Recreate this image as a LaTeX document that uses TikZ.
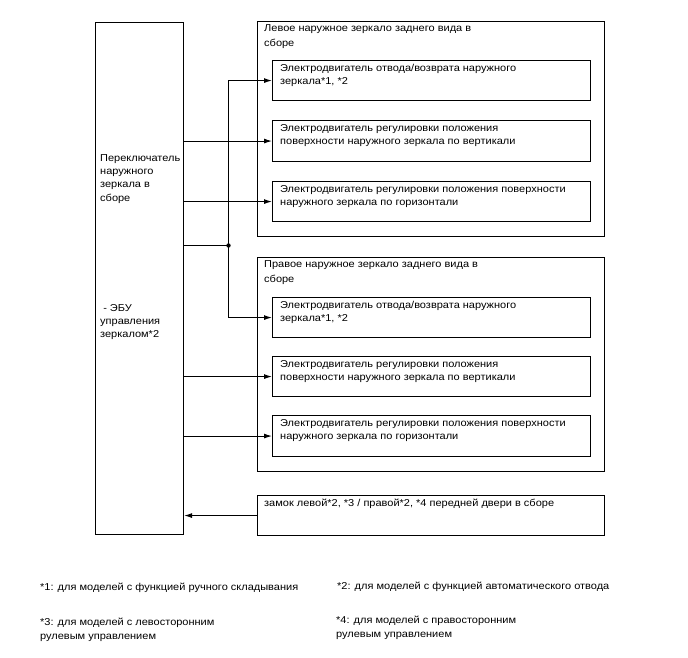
\documentclass[tikz,border=0pt]{standalone}
\usepackage{fontspec}
\setmainfont{Liberation Sans}[FakeStretch=1.1]
\usetikzlibrary{arrows.meta}
\begin{document}
\begin{tikzpicture}[x=1pt,y=-1pt,
  box/.style={draw,line width=1.1pt,rectangle,inner sep=0pt,anchor=north west},
  txt/.style={inner sep=0pt,anchor=north west,align=left,font=\fontsize{10}{13.2}\selectfont},
  ttl/.style={inner sep=0pt,anchor=north west,align=left,font=\fontsize{10}{14.5}\selectfont},
  side/.style={inner sep=0pt,anchor=north west,align=left,font=\fontsize{10}{13.3}\selectfont},
  note/.style={inner sep=0pt,anchor=north west,align=left,font=\fontsize{10}{14.3}\selectfont},
  wire/.style={line width=1pt},
  arr/.style={wire,-{Latex[length=8pt,width=5pt]}}]
\useasboundingbox (0,0) rectangle (688,658);
% left unit
\node[box,minimum width=88pt,minimum height=512pt] (lb) at (95,22) {};
\node[side] (lbt1) at (100,154.3) {Переключатель\\наружного\\зеркала в\\сборе};
\node[side] (lbt2) at (100,304) {\ - ЭБУ\\управления\\зеркалом*2};
% left mirror
\node[box,minimum width=347pt,minimum height=215pt] (lm) at (257,21) {};
\node[ttl] (lmt) at (264,24.5) {Левое наружное зеркало заднего вида в\\сборе};
\node[box,minimum width=318pt,minimum height=40pt] (lm1) at (272,60) {};
\node[txt] (lm1t) at (280,64) {Электродвигатель отвода/возврата наружного\\зеркала*1, *2};
\node[box,minimum width=318pt,minimum height=41pt] (lm2) at (272,120) {};
\node[txt] (lm2t) at (280,124) {Электродвигатель регулировки положения\\поверхности наружного зеркала по вертикали};
\node[box,minimum width=318pt,minimum height=40pt] (lm3) at (272,181) {};
\node[txt] (lm3t) at (280,185) {Электродвигатель регулировки положения поверхности\\наружного зеркала по горизонтали};
% right mirror
\node[box,minimum width=347pt,minimum height=214pt] (rm) at (257,257) {};
\node[ttl] (rmt) at (264,260.5) {Правое наружное зеркало заднего вида в\\сборе};
\node[box,minimum width=318pt,minimum height=40pt] (rm1) at (272,297) {};
\node[txt] (rm1t) at (280,301) {Электродвигатель отвода/возврата наружного\\зеркала*1, *2};
\node[box,minimum width=318pt,minimum height=40pt] (rm2) at (272,356) {};
\node[txt] (rm2t) at (280,360) {Электродвигатель регулировки положения\\поверхности наружного зеркала по вертикали};
\node[box,minimum width=318pt,minimum height=41pt] (rm3) at (272,415) {};
\node[txt] (rm3t) at (280,419) {Электродвигатель регулировки положения поверхности\\наружного зеркала по горизонтали};
% lock
\node[box,minimum width=347pt,minimum height=40pt] (lock) at (257,495) {};
\node[txt] (lockt) at (264,498.5) {замок левой*2, *3 / правой*2, *4 передней двери в сборе};
% connectors
\coordinate (dot) at (228.5,245.5);
\fill (dot) circle (2.2pt);
\draw[wire] (lb.east |- dot) -- (dot);
\draw[arr] (dot) |- (lm1.west);
\draw[arr] (dot) |- (rm1.west);
\draw[arr] (lb.east |- lm2.west) -- (lm2.west);
\draw[arr] (lb.east |- lm3.west) -- (lm3.west);
\draw[arr] (lb.east |- rm2.west) -- (rm2.west);
\draw[arr] (lb.east |- rm3.west) -- (rm3.west);
\draw[arr] (lock.west) -- (lb.east |- lock.west);
% notes
\node[note] (n1) at (40,583) {*1: для моделей с функцией ручного складывания};
\node[note] (n2) at (337,581.5) {*2: для моделей с функцией автоматического отвода};
\node[note] (n3) at (40,618) {*3: для моделей с левосторонним\\рулевым управлением};
\node[note] (n4) at (336,616) {*4: для моделей с правосторонним\\рулевым управлением};
\end{tikzpicture}
\end{document}
